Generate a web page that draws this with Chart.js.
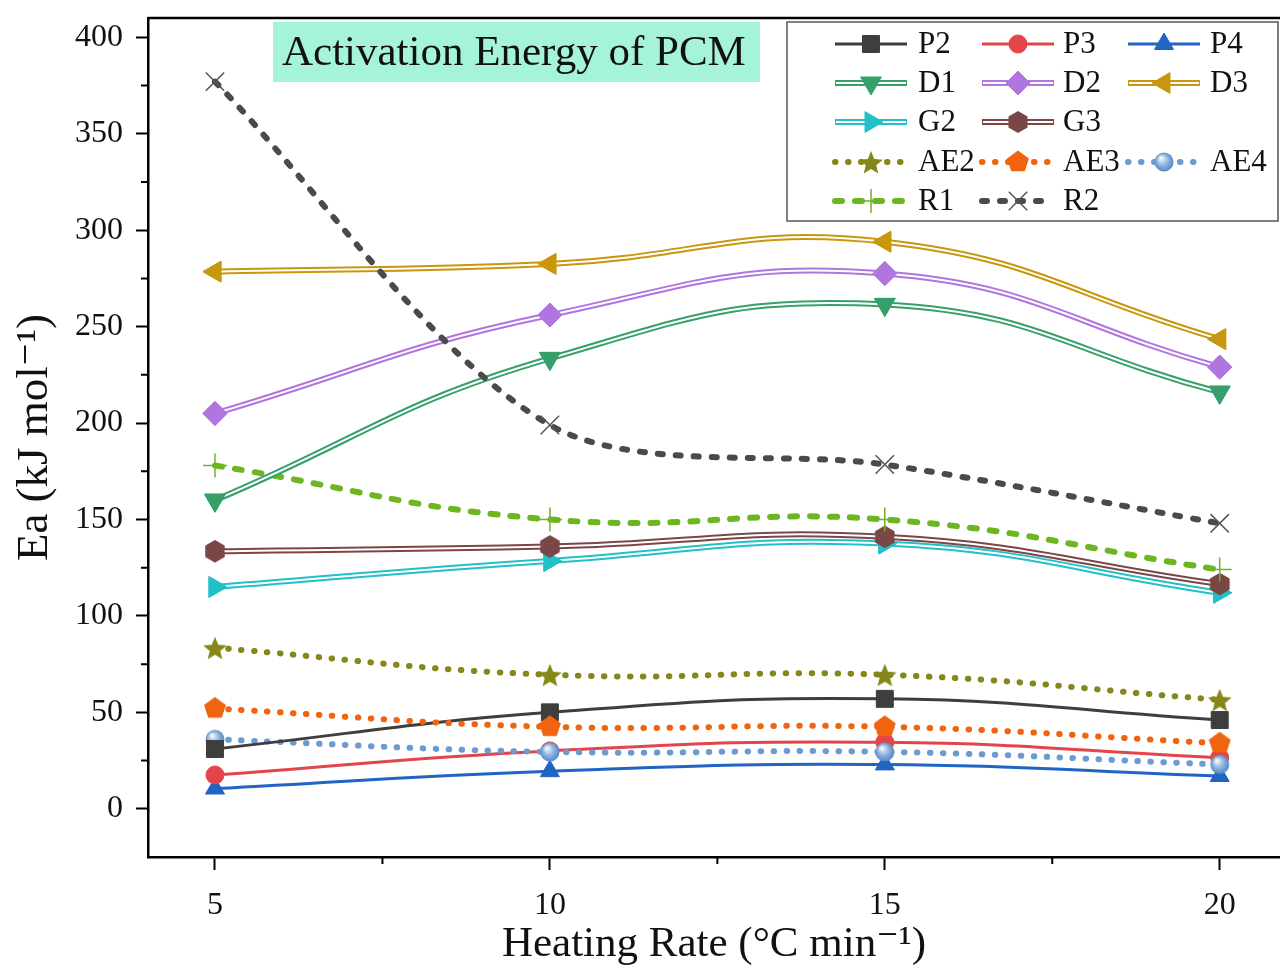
<!DOCTYPE html>
<html>
<head>
<meta charset="utf-8">
<script src="https://cdn.jsdelivr.net/npm/chart.js@4.4.0/dist/chart.umd.min.js"></script>
<style>
  html, body { margin: 0; padding: 0; background: #fff; }
  #wrap { width: 1280px; height: 971px; }
</style>
</head>
<body>
<div id="wrap"><canvas id="eaChart" width="1280" height="971"></canvas></div>
<script>
// heating rate (°C/min) and activation energy (kJ/mol) per model
const heatingRates = [5, 10, 15, 20];
const xTicks = [5, 10, 15, 20];
const yTicks = [0, 50, 100, 150, 200, 250, 300, 350, 400];

const P2 = [31, 50, 57, 46];
const P3 = [17.5, 30, 34.5, 26.5];
const P4 = [10.5, 19.5, 23, 17];
const D1 = [160, 233.5, 261.5, 216];
const D2 = [205, 256, 277.5, 229];
const D3 = [278.5, 282.5, 294, 243.5];
const G2 = [115, 128.5, 137.5, 112];
const G3 = [133.5, 136, 141, 116.5];
const AE2 = [83.5, 69.5, 69.5, 56.5];
const AE3 = [52, 42.5, 42.5, 34];
const AE4 = [36, 29.5, 29.5, 23];
const R1 = [178, 150, 150, 124];
const R2 = [377, 199, 178.5, 148];

const serif = "'Liberation Serif', 'DejaVu Serif', serif";

function marker(size, draw) {
    const c = document.createElement('canvas');
    c.width = size; c.height = size;
    draw(c.getContext('2d'), size / 2);
    return c;
}

function polygon(g, c, n, r, start) {
    g.beginPath();
    for (let i = 0; i < n; i++) {
        const a = start + i * 2 * Math.PI / n;
        g.lineTo(c + r * Math.cos(a), c + r * Math.sin(a));
    }
    g.closePath();
}

const hexMarker = marker(24, (g, c) => {
    polygon(g, c, 6, 11, -Math.PI / 2);
    g.fillStyle = '#7a4646'; g.fill();
});
const starMarker = marker(26, (g, c) => {
    g.beginPath();
    for (let i = 0; i < 10; i++) {
        const r = i % 2 ? 5.5 : 12.5;
        const a = -Math.PI / 2 + i * Math.PI / 5;
        g.lineTo(c + r * Math.cos(a), c + 1.5 + r * Math.sin(a));
    }
    g.closePath();
    g.fillStyle = '#86861a'; g.fill();
});
const pentMarker = marker(26, (g, c) => {
    polygon(g, c, 5, 11.5, -Math.PI / 2);
    g.fillStyle = '#f0640f'; g.fill();
});
const ballMarker = marker(24, (g, c) => {
    const grad = g.createRadialGradient(c - 3, c - 4, 1, c, c, 10);
    grad.addColorStop(0, '#eef5fd');
    grad.addColorStop(0.5, '#8fb5e0');
    grad.addColorStop(1, '#4f85c4');
    g.beginPath(); g.arc(c, c, 9.5, 0, 2 * Math.PI);
    g.fillStyle = grad; g.fill();
});

function series(label, data, color, extra) {
    return Object.assign({
        label: label,
        data: data,
        borderColor: color,
        backgroundColor: color,
        pointBackgroundColor: color,
        pointBorderColor: color,
        borderWidth: 3,
        pointRadius: 10,
        pointBorderWidth: 1,
        tension: 0.45,
        fill: false
    }, extra);
}

const datasets = [
    series('R2', R2, '#4a4a4a', { tension: 0.3, borderWidth: 6, borderDash: [5, 13], borderCapStyle: 'round', pointStyle: 'crossRot', pointRadius: 13, pointBorderWidth: 1.5, pointBorderColor: '#555' }),
    series('D3', D3, '#c9970e', { double: true, borderWidth: 6, pointStyle: 'triangle', pointRotation: -90, pointRadius: 12 }),
    series('D2', D2, '#b175e0', { double: true, borderWidth: 6, pointStyle: 'rectRot', pointRadius: 12 }),
    series('D1', D1, '#36a06a', { double: true, borderWidth: 6, pointStyle: 'triangle', pointRotation: 180, pointRadius: 12 }),
    series('R1', R1, '#6db521', { borderWidth: 6, borderDash: [7, 13], borderCapStyle: 'round', pointStyle: 'cross', pointRadius: 12, pointBorderWidth: 1.5 }),
    series('G3', G3, '#7a4646', { double: true, borderWidth: 6, pointStyle: hexMarker }),
    series('G2', G2, '#22c1c8', { double: true, borderWidth: 6, pointStyle: 'triangle', pointRotation: 90, pointRadius: 12 }),
    series('AE2', AE2, '#86861a', { borderWidth: 6, borderDash: [0.5, 12.5], borderCapStyle: 'round', pointStyle: starMarker }),
    series('AE3', AE3, '#f0640f', { borderWidth: 6, borderDash: [0.5, 12.5], borderCapStyle: 'round', pointStyle: pentMarker }),
    series('P2', P2, '#3e3e3e', { pointStyle: 'rect', pointRadius: 12 }),
    series('AE4', AE4, '#6b9bd0', { borderWidth: 6, borderDash: [0.5, 12.5], borderCapStyle: 'round', pointStyle: ballMarker }),
    series('P3', P3, '#e2454a', { pointStyle: 'circle', pointRadius: 9 }),
    series('P4', P4, '#2164c4', { pointStyle: 'triangle', pointRadius: 11 })
];

const legendRows = [
    ['P2', 'P3', 'P4'],
    ['D1', 'D2', 'D3'],
    ['G2', 'G3'],
    ['AE2', 'AE3', 'AE4'],
    ['R1', 'R2']
];

// white centre stripe for the double-line series, then redraw their markers on top
const doubleLine = {
    id: 'doubleLine',
    afterDatasetDraw(chart, args) {
        const ds = chart.data.datasets[args.index];
        if (!ds.double) return;
        const ctx = chart.ctx;
        ctx.save();
        ctx.beginPath();
        args.meta.dataset.path(ctx);
        ctx.lineWidth = 2;
        ctx.strokeStyle = '#fff';
        ctx.lineJoin = 'round';
        ctx.stroke();
        ctx.restore();
        args.meta.data.forEach(p => p.draw(ctx, chart.chartArea));
    }
};

const frame = {
    id: 'frame',
    afterDraw(chart) {
        const ctx = chart.ctx, a = chart.chartArea;
        const x = chart.scales.x, y = chart.scales.y;
        ctx.save();
        ctx.strokeStyle = '#000';
        ctx.lineWidth = 2.5;
        ctx.beginPath();
        ctx.moveTo(a.left, a.top); ctx.lineTo(a.right, a.top);
        ctx.stroke();
        // minor ticks
        ctx.lineWidth = 2;
        ctx.beginPath();
        for (let v = 25; v < 410; v += 50) {
            const py = y.getPixelForValue(v);
            ctx.moveTo(a.left - 7, py); ctx.lineTo(a.left, py);
        }
        [7.5, 12.5, 17.5].forEach(v => {
            const px = x.getPixelForValue(v);
            ctx.moveTo(px, a.bottom); ctx.lineTo(px, a.bottom + 7);
        });
        ctx.stroke();

        // title box
        ctx.fillStyle = '#a6f4d7';
        ctx.fillRect(273, 22, 487, 60);
        ctx.fillStyle = '#111';
        ctx.font = '43px ' + serif;
        ctx.textBaseline = 'middle';
        ctx.textAlign = 'left';
        ctx.fillText('Activation Energy of PCM', 282, 54);

        // legend
        ctx.fillStyle = '#fff';
        ctx.fillRect(787, 22, 491, 199);
        ctx.strokeStyle = '#555';
        ctx.lineWidth = 1.5;
        ctx.strokeRect(787, 22, 491, 199);
        const rowY = [44, 83, 122, 162, 201];
        const sampleX = [835, 982, 1128];
        const labelX = [918, 1063, 1210];
        ctx.font = '31px ' + serif;
        legendRows.forEach((row, r) => {
            row.forEach((name, c) => {
                const ds = chart.data.datasets.find(d => d.label === name);
                const y0 = rowY[r], x0 = sampleX[c], x1 = x0 + 72;
                ctx.save();
                ctx.strokeStyle = ds.borderColor;
                ctx.lineWidth = ds.borderWidth;
                ctx.lineCap = ds.borderCapStyle || 'butt';
                ctx.setLineDash(ds.borderDash || []);
                ctx.beginPath(); ctx.moveTo(x0, y0); ctx.lineTo(x1, y0); ctx.stroke();
                if (ds.double) {
                    ctx.strokeStyle = '#fff'; ctx.lineWidth = 2;
                    ctx.beginPath(); ctx.moveTo(x0 + 1, y0); ctx.lineTo(x1 - 1, y0); ctx.stroke();
                }
                ctx.setLineDash([]);
                ctx.lineCap = 'butt';
                ctx.lineWidth = ds.pointBorderWidth;
                ctx.fillStyle = ds.pointBackgroundColor;
                ctx.strokeStyle = ds.pointBorderColor;
                Chart.helpers.drawPoint(ctx, {
                    pointStyle: ds.pointStyle,
                    rotation: ds.pointRotation || 0,
                    radius: ds.pointRadius,
                    borderWidth: ds.pointBorderWidth
                }, (x0 + x1) / 2, y0);
                ctx.restore();
                ctx.fillStyle = '#111';
                ctx.fillText(name, labelX[c], y0 + 1);
            });
        });
        ctx.restore();
    }
};

new Chart(document.getElementById('eaChart'), {
    type: 'line',
    data: { datasets: datasets.map(d => Object.assign(d, { data: d.data.map((v, i) => ({ x: heatingRates[i], y: v })) })) },
    plugins: [doubleLine, frame],
    options: {
        responsive: false,
        animation: false,
        devicePixelRatio: 1,
        layout: { autoPadding: false, padding: { top: 18, right: 0, left: 0, bottom: 0 } },
        plugins: { legend: { display: false }, tooltip: { enabled: false } },
        scales: {
            x: {
                type: 'linear',
                min: 4,
                max: 20.9,
                afterBuildTicks: s => { s.ticks = xTicks.map(v => ({ value: v })); },
                afterFit: s => { s.height = 114; s.paddingLeft = 0; s.paddingRight = 0; },
                grid: { drawOnChartArea: false, tickLength: 13, tickWidth: 2, color: '#000' },
                border: { display: true, width: 2.5, color: '#000' },
                ticks: { autoSkip: false, maxRotation: 0, padding: 16, color: '#111', font: { family: serif, size: 32 } },
                title: { display: true, text: 'Heating Rate (°C min⁻¹)', color: '#111', font: { family: serif, size: 43 }, padding: { top: 0, bottom: 0 } }
            },
            y: {
                min: -25,
                max: 410,
                afterBuildTicks: s => { s.ticks = yTicks.map(v => ({ value: v })); },
                afterFit: s => { s.width = 148; s.paddingTop = 0; s.paddingBottom = 0; },
                grid: { drawOnChartArea: false, tickLength: 12, tickWidth: 2, color: '#000' },
                border: { display: true, width: 2.5, color: '#000' },
                ticks: { autoSkip: false, padding: 13, color: '#111', font: { family: serif, size: 32 } },
                title: { display: true, text: 'Ea (kJ mol⁻¹)', color: '#111', font: { family: serif, size: 45 }, padding: { top: 8, bottom: 0 } }
            }
        }
    }
});
</script>
</body>
</html>
